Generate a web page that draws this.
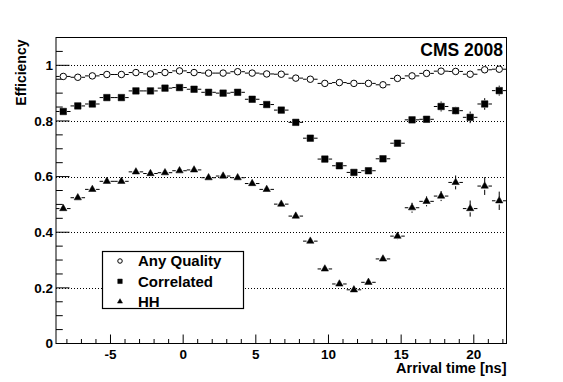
<!DOCTYPE html>
<html>
<head>
<meta charset="utf-8">
<script src="https://cdn.jsdelivr.net/npm/d3@7"></script>
<style>
  body { margin: 0; background: #fff; }
  svg { display: block; font-family: "Liberation Sans", Arial, sans-serif; font-weight: bold; }
</style>
</head>
<body>
<div id="chart"></div>
<script>
// bin centres (ns), bin width 1
const arrivalTime = d3.range(31).map((i) => -8.25 + i);

const anyQuality = [
  0.960, 0.957, 0.962, 0.967, 0.967, 0.974, 0.969, 0.974, 0.980, 0.974,
  0.972, 0.972, 0.977, 0.972, 0.969, 0.968, 0.954, 0.950, 0.935, 0.938,
  0.935, 0.935, 0.930, 0.953, 0.962, 0.971, 0.979, 0.978, 0.968, 0.984,
  0.986,
];
const anyQualityErr = new Array(31).fill(0.004);

const correlated = [
  0.834, 0.854, 0.861, 0.884, 0.884, 0.908, 0.908, 0.918, 0.920, 0.914,
  0.903, 0.900, 0.903, 0.878, 0.859, 0.839, 0.795, 0.738, 0.663, 0.639,
  0.615, 0.621, 0.664, 0.720, 0.804, 0.806, 0.852, 0.837, 0.813, 0.861,
  0.909,
];
const correlatedErr = [
  0.006, 0.006, 0.006, 0.006, 0.006, 0.006, 0.006, 0.006, 0.006, 0.006,
  0.006, 0.006, 0.006, 0.006, 0.006, 0.006, 0.007, 0.007, 0.008, 0.008,
  0.008, 0.008, 0.009, 0.010, 0.011, 0.011, 0.018, 0.014, 0.021, 0.021,
  0.018,
];

const hh = [
  0.485, 0.524, 0.554, 0.583, 0.583, 0.617, 0.611, 0.614, 0.621, 0.624,
  0.596, 0.602, 0.596, 0.575, 0.554, 0.501, 0.458, 0.368, 0.268, 0.214,
  0.193, 0.220, 0.304, 0.386, 0.488, 0.511, 0.530, 0.579, 0.485, 0.566,
  0.513,
];
const hhErr = [
  0.009, 0.009, 0.009, 0.009, 0.009, 0.009, 0.009, 0.009, 0.009, 0.009,
  0.009, 0.009, 0.009, 0.009, 0.009, 0.009, 0.009, 0.009, 0.009, 0.009,
  0.009, 0.010, 0.012, 0.014, 0.018, 0.018, 0.018, 0.025, 0.029, 0.032,
  0.033,
];

const seriesNames = ["Any Quality", "Correlated", "HH"];
const xTicks = [-5, 0, 5, 10, 15, 20];
const yTicks = [0, 0.2, 0.4, 0.6, 0.8, 1];
const yTickLabels = ["0", "0.2", "0.4", "0.6", "0.8", "1"];

const width = 563;
const height = 382;
const margin = { top: 37.5, right: 56.5, bottom: 38.5, left: 56 };

const x = d3
  .scaleLinear()
  .domain([-8.75, 22.25])
  .range([margin.left, width - margin.right]);
const y = d3
  .scaleLinear()
  .domain([0, 1.1])
  .range([height - margin.bottom, margin.top]);

const svg = d3
  .select("#chart")
  .append("svg")
  .attr("width", width)
  .attr("height", height);

// dotted grid
svg
  .append("g")
  .selectAll("line")
  .data(yTicks.filter((d) => d > 0))
  .join("line")
  .attr("x1", x.range()[0])
  .attr("x2", x.range()[1])
  .attr("y1", (d) => Math.round(y(d)) + 0.5)
  .attr("y2", (d) => Math.round(y(d)) + 0.5)
  .attr("stroke", "#000")
  .attr("stroke-width", 1)
  .attr("stroke-dasharray", "1,2");

// frame
svg
  .append("rect")
  .attr("x", x.range()[0])
  .attr("y", y.range()[1])
  .attr("width", x.range()[1] - x.range()[0])
  .attr("height", y.range()[0] - y.range()[1])
  .attr("fill", "none")
  .attr("stroke", "#000")
  .attr("stroke-width", 1);

// x axis, ticks inside
const xAxis = svg
  .append("g")
  .attr("transform", `translate(0,${y.range()[0]})`);
xAxis
  .selectAll("line.minor")
  .data(d3.range(-8, 23))
  .join("line")
  .attr("class", "minor")
  .attr("x1", (d) => x(d))
  .attr("x2", (d) => x(d))
  .attr("y1", 0)
  .attr("y2", (d) => (d % 5 === 0 ? -9 : -4.5))
  .attr("stroke", "#000");
xAxis
  .selectAll("text")
  .data(xTicks)
  .join("text")
  .attr("x", (d) => x(d))
  .attr("y", 15)
  .attr("text-anchor", "middle")
  .attr("font-size", 13.5)
  .text((d) => d);

// y axis, ticks inside
const yAxis = svg
  .append("g")
  .attr("transform", `translate(${x.range()[0]},0)`);
yAxis
  .selectAll("line")
  .data(d3.range(0, 22).map((i) => i * 0.05))
  .join("line")
  .attr("x1", 0)
  .attr("x2", (d, i) => (i % 4 === 0 ? 13.5 : 6.75))
  .attr("y1", (d) => y(d))
  .attr("y2", (d) => y(d))
  .attr("stroke", "#000");
yAxis
  .selectAll("text")
  .data(yTicks)
  .join("text")
  .attr("x", -3)
  .attr("y", (d) => y(d))
  .attr("dy", "0.36em")
  .attr("text-anchor", "end")
  .attr("font-size", 13.5)
  .text((d, i) => yTickLabels[i]);

// titles
svg
  .append("text")
  .attr("x", x.range()[1])
  .attr("y", 373)
  .attr("text-anchor", "end")
  .attr("font-size", 14.5)
  .text("Arrival time [ns]");
svg
  .append("text")
  .attr("transform", `translate(26,${y.range()[1] + 2}) rotate(-90)`)
  .attr("text-anchor", "end")
  .attr("font-size", 14)
  .text("Efficiency");
svg
  .append("text")
  .attr("x", 503)
  .attr("y", 56)
  .attr("text-anchor", "end")
  .attr("font-size", 17.5)
  .text("CMS 2008");

// data points with error bars
const series = [
  { name: seriesNames[0], values: anyQuality, errs: anyQualityErr, shape: "circle" },
  { name: seriesNames[1], values: correlated, errs: correlatedErr, shape: "square" },
  { name: seriesNames[2], values: hh, errs: hhErr, shape: "triangle" },
];

const markerPath = (shape, s) => {
  if (shape === "square") return d3.symbol(d3.symbolSquare, s * s)();
  if (shape === "triangle") return d3.symbol(d3.symbolTriangle, s * s * 0.55)();
  return d3.symbol(d3.symbolCircle, (Math.PI * s * s) / 4)();
};

const drawMarker = (g, shape, s) => {
  g.append("path")
    .attr("d", markerPath(shape, s))
    .attr("fill", shape === "circle" ? "#fff" : "#000")
    .attr("stroke", "#000")
    .attr("stroke-width", shape === "circle" ? 1 : 0.5);
};

const halfBin = (x(1) - x(0)) / 2;
const mSize = 6.5;

series.forEach((s) => {
  const g = svg.append("g");
  const pts = arrivalTime.map((t, i) => ({ t, v: s.values[i], e: s.errs[i] }));
  const gap = mSize / 2 + 0.5;
  pts.forEach((p) => {
    const cx = x(p.t);
    const cy = y(p.v);
    const pg = g.append("g");
    // horizontal bars
    [-1, 1].forEach((dir) => {
      pg.append("line")
        .attr("x1", cx + dir * gap)
        .attr("x2", cx + dir * halfBin)
        .attr("y1", cy)
        .attr("y2", cy)
        .attr("stroke", "#000");
    });
    // vertical bars
    const up = y(p.v + p.e);
    const down = y(p.v - p.e);
    if (cy - up > gap) {
      pg.append("line")
        .attr("x1", cx).attr("x2", cx)
        .attr("y1", cy - gap).attr("y2", up)
        .attr("stroke", "#000");
      pg.append("line")
        .attr("x1", cx).attr("x2", cx)
        .attr("y1", cy + gap).attr("y2", down)
        .attr("stroke", "#000");
    }
    const mg = pg.append("g").attr("transform", `translate(${cx},${cy})`);
    drawMarker(mg, s.shape, mSize);
  });
});

// legend
const legend = svg.append("g");
legend
  .append("rect")
  .attr("x", 102.5)
  .attr("y", 251.5)
  .attr("width", 141)
  .attr("height", 57)
  .attr("fill", "#fff")
  .attr("stroke", "#000")
  .attr("stroke-width", 1.2);
series.forEach((s, i) => {
  const ly = 261 + i * 20.3;
  const mg = legend.append("g").attr("transform", `translate(120,${ly})`);
  drawMarker(mg, s.shape, 4.5);
  legend
    .append("text")
    .attr("x", 138)
    .attr("y", ly)
    .attr("dy", "0.36em")
    .attr("font-size", 15)
    .text(s.name);
});
</script>
</body>
</html>
